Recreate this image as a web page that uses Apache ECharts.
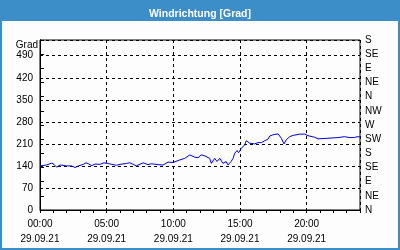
<!DOCTYPE html>
<html>
<head>
<meta charset="utf-8">
<script src="https://cdn.jsdelivr.net/npm/echarts@6/dist/echarts.min.js"></script>
<style>
html,body{margin:0;padding:0;background:#fff;}
#c{width:400px;height:250px;}
</style>
</head>
<body>
<div id="c"></div>
<script>
// Hours since 00:00 on 29.09.21
const hours = [0.00,0.50,0.88,1.05,1.25,1.50,2.00,2.38,2.63,2.87,3.25,3.45,3.62,3.88,4.13,4.50,4.80,5.05,5.38,5.75,6.00,6.50,6.73,6.98,7.22,7.73,8.10,8.35,8.85,9.23,9.60,9.98,10.10,10.48,10.85,11.23,11.60,11.85,12.08,12.30,12.73,12.85,13.10,13.28,13.48,13.73,13.95,14.10,14.33,14.48,14.60,14.78,14.89,14.98,15.10,15.23,15.35,15.47,15.73,16.10,16.35,16.60,16.85,17.10,17.23,17.48,17.85,18.10,18.30,18.47,18.73,18.98,19.48,19.85,20.10,20.60,20.85,21.60,22.35,22.48,22.85,23.18,23.60,23.78,24.00];
const direction = [140,143,149,145,136,143,140,140,135,140,145,150,147,141,146,145,150,148,145,142,145,148,150,145,140,150,144,147,144,143,152,151,148,159,164,175,168,166,175,173,164,148,164,154,164,148,154,143,154,164,180,189,182,188,196,190,207,220,212,210,214,214,220,225,235,239,242,228,210,223,233,237,241,241,236,231,226,228,230,233,233,230,230,233,232];
const compassLabels = ['N','NE','E','SE','S','SW','W','NW','N','NE','E','SE','S'];
const dateLabel = '29.09.21';
const titleText = 'Windrichtung [Grad]';
const unitLabel = 'Grad';

const FONT = 'Liberation Sans';
const chart = echarts.init(document.getElementById('c'), null, {renderer:'canvas'});
const pad = n => (n < 10 ? '0' : '') + n;
chart.setOption({
  animation:false,
  backgroundColor:'#fcfdfc',
  textStyle:{fontFamily:FONT},
  title:{text:titleText,left:'center',top:4,textStyle:{color:'#fff',fontSize:10.5,fontWeight:'bold',fontFamily:FONT}},
  graphic:[
    {type:'rect',shape:{x:0,y:0,width:400,height:21},style:{fill:'#3b8ec7'},z:-1},
    {type:'rect',shape:{x:1,y:1,width:398,height:248},style:{fill:'none',stroke:'#3b8ec7',lineWidth:2},z:-1},
    {type:'text',style:{text:unitLabel,x:38,y:45,align:'right',verticalAlign:'middle',font:'10px "Liberation Sans"',fill:'#000'}}
  ],
  grid:{left:40,right:40,top:40,bottom:40,show:true,borderColor:'#000',borderWidth:1,backgroundColor:'transparent'},
  xAxis:[
    {type:'value',min:0,max:24,interval:1,position:'bottom',
     axisLine:{lineStyle:{color:'#000',width:1}},
     axisTick:{show:true,length:3,lineStyle:{color:'#000'}},
     axisLabel:{show:false},splitLine:{show:false}},
    {type:'value',min:0,max:24,interval:5,position:'bottom',
     axisLine:{show:false},axisTick:{show:false},
     axisLabel:{show:true,showMaxLabel:false,margin:7,color:'#000',fontSize:10,lineHeight:15,fontFamily:FONT,
       formatter:v=>pad(v)+':00\n'+dateLabel},
     splitLine:{show:true,lineStyle:{color:'#000',type:[3,3],width:1}}}
  ],
  yAxis:[
    {type:'value',min:0,max:540,interval:70,position:'left',
     axisLine:{show:true,lineStyle:{color:'#000'}},axisTick:{show:false},
     axisLabel:{showMaxLabel:false,margin:7,color:'#000',fontSize:10,fontFamily:FONT},
     splitLine:{show:true,lineStyle:{color:'#000',type:[3,3],width:1}}},
    {type:'value',min:0,max:540,interval:45,position:'right',
     axisLine:{show:true,lineStyle:{color:'#000'}},
     axisTick:{show:true,length:4,lineStyle:{color:'#000'}},
     axisLabel:{margin:5,color:'#000',fontSize:10,fontFamily:FONT,
       formatter:v=>compassLabels[Math.round(v/45)]},
     splitLine:{show:false}}
  ],
  series:[{type:'line',xAxisIndex:0,yAxisIndex:0,showSymbol:false,
    data:hours.map((h,i)=>[h,direction[i]]),
    lineStyle:{color:'#0000ee',width:1},z:5}]
});
</script>
</body>
</html>
